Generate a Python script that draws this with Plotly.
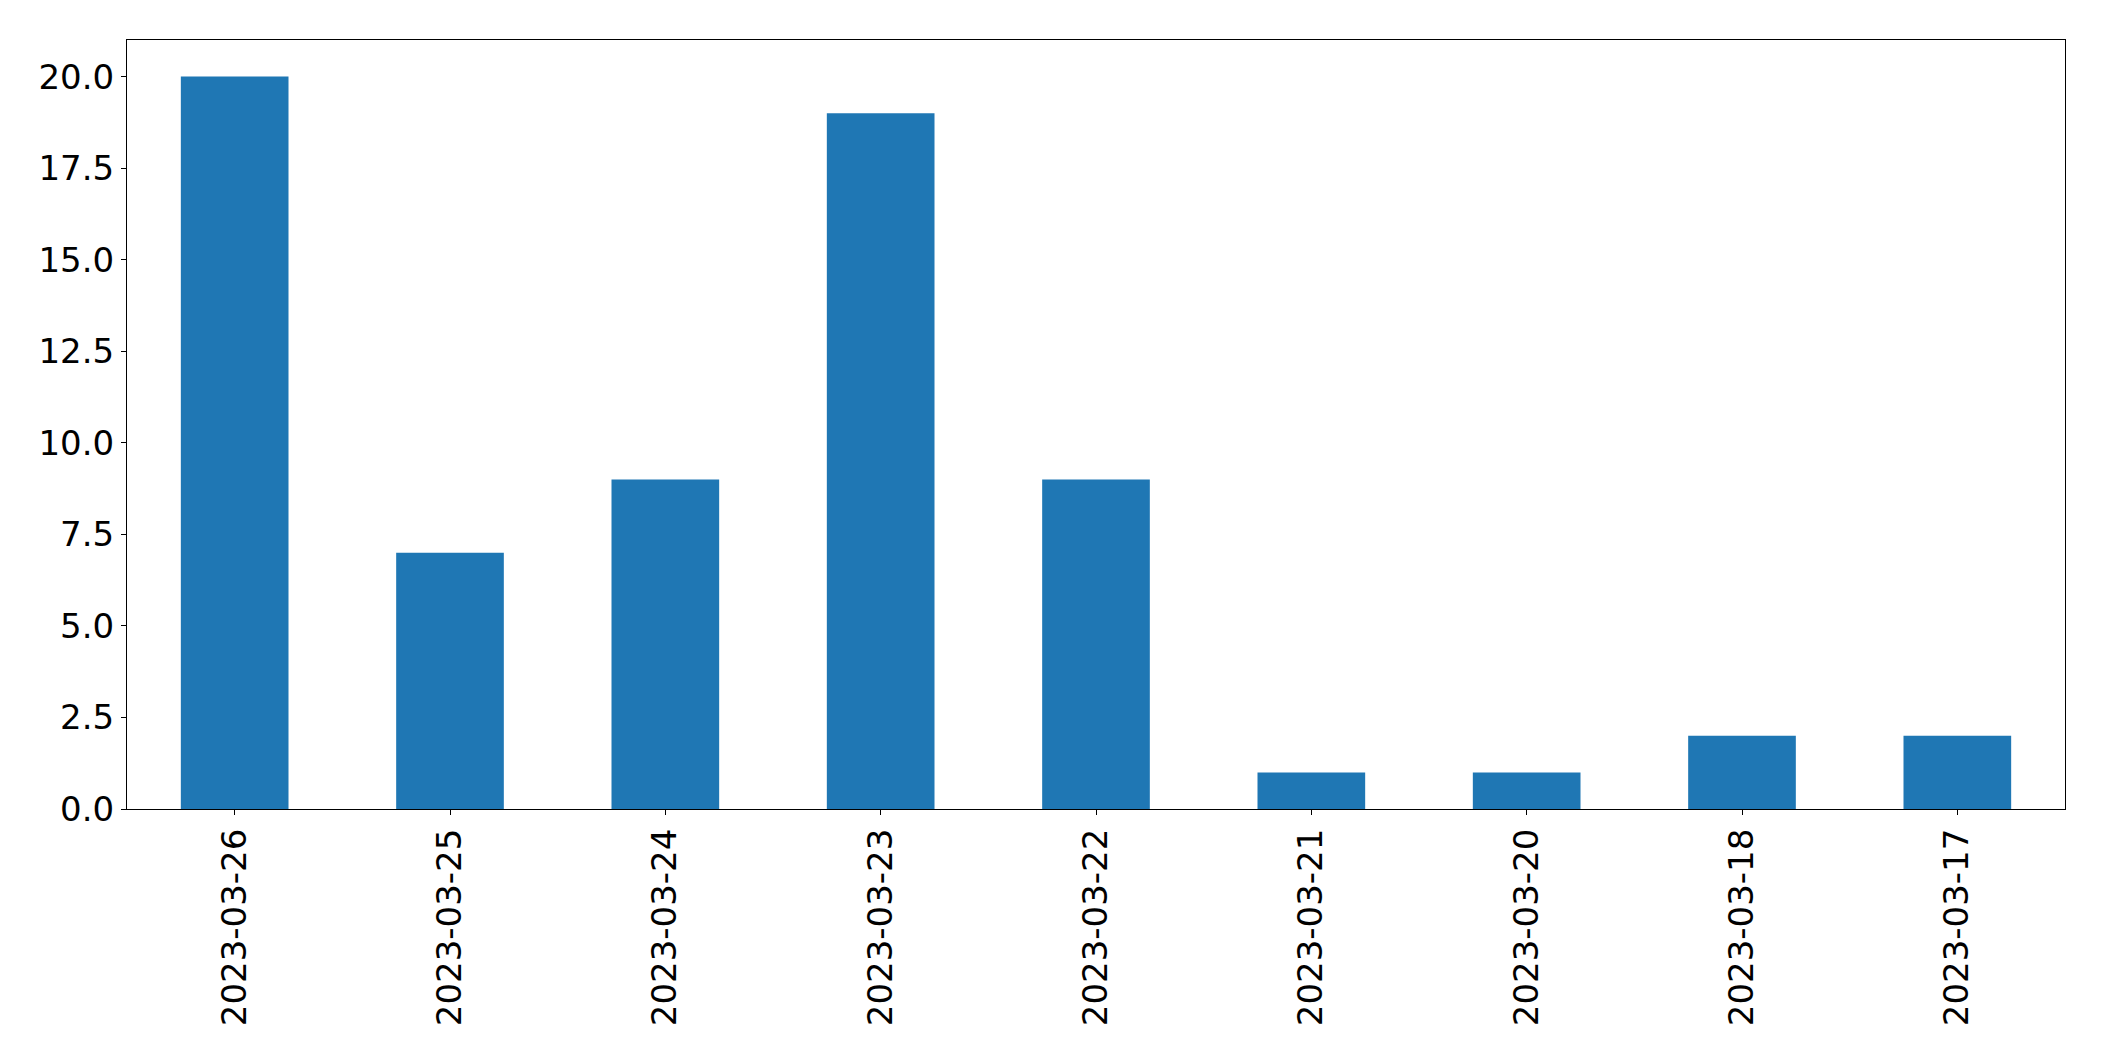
import plotly.graph_objects as go

dates = ["2023-03-26", "2023-03-25", "2023-03-24", "2023-03-23", "2023-03-22",
         "2023-03-21", "2023-03-20", "2023-03-18", "2023-03-17"]
counts = [20, 7, 9, 19, 9, 1, 1, 2, 2]
y_ticks = [0, 2.5, 5, 7.5, 10, 12.5, 15, 17.5, 20]
y_tick_labels = ["0.0", "2.5", "5.0", "7.5", "10.0", "12.5", "15.0", "17.5", "20.0"]

fig = go.Figure(go.Bar(
    x=list(range(len(dates))), y=counts, width=0.5,
    marker=dict(color="#1f77b4", line=dict(width=0)),
))

font = dict(family="DejaVu Sans", size=34, color="black")
fig.update_layout(
    width=2104, height=1061,
    margin=dict(l=127, r=39, t=40, b=252, pad=0),
    paper_bgcolor="white", plot_bgcolor="white",
    showlegend=False,
    font=font,
)
fig.update_xaxes(
    range=[-0.5, len(dates) - 0.5],
    tickmode="array", tickvals=list(range(len(dates))), ticktext=dates,
    tickangle=-90, ticks="outside", ticklen=5, tickwidth=1.1, tickcolor="black",
    showline=True, linecolor="black", linewidth=1.1, mirror=True,
    showgrid=False, zeroline=False, tickfont=font, automargin=False,
)
fig.update_yaxes(
    range=[0, 21],
    tickmode="array", tickvals=y_ticks, ticktext=y_tick_labels,
    ticks="outside", ticklen=5, tickwidth=1.1, tickcolor="black",
    showline=True, linecolor="black", linewidth=1.1, mirror=True,
    showgrid=False, zeroline=False, tickfont=font, automargin=False,
)
fig.write_html("out.html", config={"displayModeBar": False},
               post_script="document.body.style.margin='0';")
